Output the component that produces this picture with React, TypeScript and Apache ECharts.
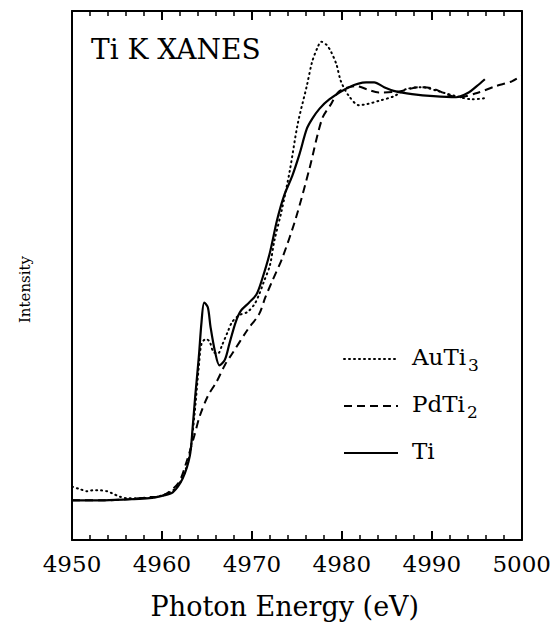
import React, { useEffect, useRef } from "react";
import * as echarts from "echarts";

// Photon energy (eV) and intensity (arbitrary units)
const energyTi = [4950.0, 4953.1, 4956.4, 4958.6, 4960.1, 4961.2, 4962.3, 4963.1, 4963.4, 4963.7, 4964.1, 4964.4, 4964.7, 4965.1, 4965.4, 4965.9, 4966.4, 4967.0, 4967.5, 4968.2, 4968.8, 4969.7, 4970.5, 4971.1, 4972.0, 4972.8, 4973.6, 4974.5, 4975.3, 4976.1, 4976.7, 4977.5, 4978.6, 4980.8, 4982.7, 4983.6, 4984.7, 4986.0, 4987.8, 4990.2, 4992.7, 4994.1, 4995.0, 4995.9];
const intensityTi = [7.5, 7.5, 7.7, 7.9, 8.4, 9.0, 11.6, 15.9, 21.0, 27.2, 34.6, 41.2, 44.9, 44.0, 40.3, 35.6, 33.0, 34.1, 37.1, 41.2, 43.4, 44.9, 46.4, 49.1, 54.3, 60.5, 65.2, 68.9, 73.0, 77.7, 79.6, 81.5, 83.3, 85.6, 86.5, 86.5, 85.6, 84.8, 84.3, 83.9, 83.7, 84.6, 85.8, 87.1];

const energyAuTi3 = [4950.0, 4950.9, 4951.7, 4952.3, 4953.1, 4953.9, 4954.5, 4955.3, 4956.1, 4957.5, 4959.2, 4960.3, 4961.4, 4962.3, 4963.1, 4963.6, 4964.1, 4964.4, 4964.9, 4965.3, 4965.7, 4966.2, 4966.7, 4967.3, 4967.8, 4968.6, 4969.5, 4970.3, 4970.8, 4971.3, 4972.0, 4972.5, 4973.3, 4974.2, 4975.1, 4976.1, 4976.7, 4977.3, 4977.7, 4978.3, 4978.8, 4979.4, 4979.9, 4980.8, 4981.9, 4982.8, 4984.1, 4985.8, 4987.1, 4988.9, 4990.8, 4992.7, 4994.5, 4995.8];
const intensityAuTi3 = [10.1, 9.6, 9.2, 9.4, 9.4, 9.2, 8.8, 8.2, 7.9, 7.9, 8.1, 8.6, 9.6, 11.8, 16.3, 23.4, 32.8, 37.1, 38.0, 37.5, 35.6, 35.2, 36.9, 39.3, 41.2, 42.5, 43.1, 44.6, 46.4, 48.7, 51.9, 56.6, 62.2, 69.7, 78.7, 85.8, 90.4, 93.1, 94.2, 93.6, 92.3, 89.9, 86.7, 83.9, 82.2, 82.4, 83.0, 83.9, 85.2, 85.6, 84.8, 83.9, 83.3, 83.5];

const energyPdTi2 = [4950.0, 4953.1, 4956.4, 4958.6, 4960.1, 4961.8, 4962.7, 4963.6, 4964.2, 4965.1, 4966.1, 4967.0, 4967.8, 4969.5, 4970.8, 4971.5, 4972.2, 4973.4, 4974.9, 4976.4, 4977.8, 4978.8, 4979.7, 4981.6, 4982.8, 4984.1, 4986.4, 4988.6, 4990.0, 4991.6, 4993.0, 4995.2, 4997.1, 4998.9, 5000.0];
const intensityPdTi2 = [7.5, 7.5, 7.7, 8.1, 8.4, 10.7, 14.6, 19.7, 23.4, 27.2, 30.0, 33.1, 35.2, 39.7, 42.7, 45.9, 48.7, 53.4, 60.9, 70.2, 79.6, 82.4, 84.8, 85.8, 85.2, 84.6, 84.8, 85.6, 85.4, 84.3, 83.7, 84.6, 85.8, 86.7, 87.8];

// Axis tick values
const xTicks = [4950, 4960, 4970, 4980, 4990, 5000];
const seriesNames = ["AuTi3", "PdTi2", "Ti"];

const Y_MIN = 0;
const Y_MAX = 100;
const FONT = "DejaVu Serif";

const zip = (xs: number[], ys: number[]) => xs.map((x, i) => [x, ys[i]]);

const makeX = (position: "bottom" | "top", withLabels: boolean) => ({
  type: "value",
  position,
  min: xTicks[0],
  max: xTicks[xTicks.length - 1],
  interval: 10,
  splitLine: { show: false },
  minorSplitLine: { show: false },
  axisLine: { show: true, onZero: false, lineStyle: { color: "#000", width: 2 } },
  axisTick: { show: true, inside: true, length: 9, lineStyle: { color: "#000", width: 2 } },
  minorTick: { show: true, splitNumber: 5, length: 5, lineStyle: { color: "#000", width: 1.5 } },
  axisLabel: withLabels
    ? { show: true, fontFamily: FONT, fontSize: 23, color: "#000", margin: 12, formatter: (v: number) => String(v) }
    : { show: false },
});

export default function App() {
  const ref = useRef<HTMLDivElement>(null);
  useEffect(() => {
    if (!ref.current) return;
    const chart = echarts.init(ref.current, undefined, { renderer: "svg" });
    chart.setOption({
      animation: false,
      backgroundColor: "#fff",
      title: {
        text: "Ti K XANES",
        left: 91,
        top: 35,
        padding: 0,
        textStyle: { fontFamily: FONT, fontSize: 28, fontWeight: "normal", color: "#000" },
      },
      grid: { left: 72, right: 31, top: 11, bottom: 80 },
      legend: {
        orient: "vertical",
        left: 338,
        top: 340,
        itemWidth: 54,
        itemHeight: 12,
        itemGap: 19,
        data: seriesNames,
        itemStyle: { color: "transparent", borderWidth: 0, opacity: 0 },
        formatter: (name: string) => {
          const m = name.match(/^(.*?)(\d)$/);
          return m ? `{b|${m[1]}}{s|${m[2]}}` : `{b|${name}}`;
        },
        textStyle: {
          fontFamily: FONT,
          color: "#000",
          padding: [0, 0, 0, 9],
          rich: {
            b: { fontFamily: FONT, fontSize: 23, lineHeight: 28, color: "#000", verticalAlign: "top" },
            s: { fontFamily: FONT, fontSize: 17, lineHeight: 17, color: "#000", verticalAlign: "top", padding: [11, 0, 0, 2] },
          },
        },
      },
      xAxis: [
        {
          ...makeX("bottom", true),
          name: "Photon Energy (eV)",
          nameLocation: "middle",
          nameGap: 53,
          nameTextStyle: { fontFamily: FONT, fontSize: 27, color: "#000", padding: [0, 24, 0, 0] },
        },
        makeX("top", false),
      ],
      yAxis: [
        {
          type: "value",
          min: Y_MIN,
          max: Y_MAX,
          position: "left",
          splitLine: { show: false },
          axisTick: { show: false },
          axisLabel: { show: false },
          axisLine: { show: true, onZero: false, lineStyle: { color: "#000", width: 2 } },
          name: "Intensity",
          nameLocation: "middle",
          nameGap: 40,
          nameTextStyle: { fontFamily: FONT, fontSize: 15, color: "#000", padding: [0, 28, 0, 0] },
        },
        {
          type: "value",
          min: Y_MIN,
          max: Y_MAX,
          position: "right",
          splitLine: { show: false },
          axisTick: { show: false },
          axisLabel: { show: false },
          axisLine: { show: true, onZero: false, lineStyle: { color: "#000", width: 2 } },
        },
      ],
      series: [
        {
          name: seriesNames[0],
          type: "line",
          data: zip(energyAuTi3, intensityAuTi3),
          showSymbol: false,
          symbol: "none",
          smooth: 0.3,
          lineStyle: { color: "#000", width: 2, type: [1, 4], cap: "round" },
          itemStyle: { color: "#000" },
        },
        {
          name: seriesNames[1],
          type: "line",
          data: zip(energyPdTi2, intensityPdTi2),
          showSymbol: false,
          symbol: "none",
          smooth: 0.3,
          lineStyle: { color: "#000", width: 2, type: [8, 5] },
          itemStyle: { color: "#000" },
        },
        {
          name: seriesNames[2],
          type: "line",
          data: zip(energyTi, intensityTi),
          showSymbol: false,
          symbol: "none",
          smooth: 0.3,
          lineStyle: { color: "#000", width: 2.2, type: "solid" },
          itemStyle: { color: "#000" },
        },
      ],
    });
    return () => chart.dispose();
  }, []);
  return (
    <div
      ref={ref}
      style={{ position: "fixed", left: 0, top: 0, width: 554, height: 625, background: "#fff" }}
    />
  );
}
